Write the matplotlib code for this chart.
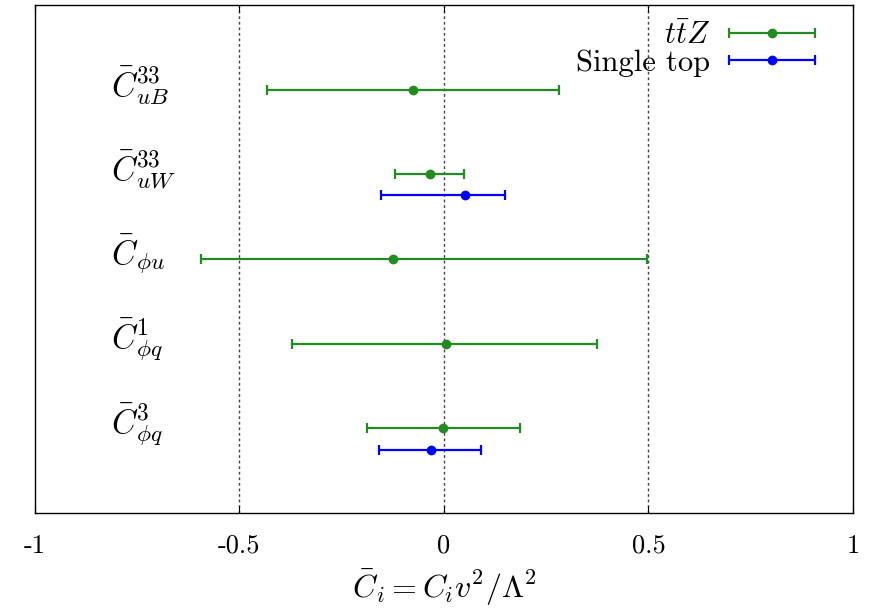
import matplotlib
matplotlib.use("Agg")
import matplotlib.pyplot as plt
from matplotlib.legend_handler import HandlerErrorbar
from matplotlib.container import ErrorbarContainer
import numpy as np

plt.rcParams['mathtext.fontset'] = 'cm'
plt.rcParams['font.family'] = ['cmr10', 'DejaVu Serif']
plt.rcParams['axes.unicode_minus'] = False

labels = [r'$\bar{C}_{uB}^{33}$', r'$\bar{C}_{uW}^{33}$', r'$\bar{C}_{\phi u}$',
          r'$\bar{C}_{\phi q}^{1}$', r'$\bar{C}_{\phi q}^{3}$']
ypos = [5, 4, 3, 2, 1]

# ttZ: center, low, high
ttz_c = [-0.076, -0.034, -0.125, 0.005, -0.002]
ttz_lo = [-0.433, -0.120, -0.594, -0.372, -0.188]
ttz_hi = [0.281, 0.049, 0.496, 0.374, 0.186]

# single top (only for uW and phi q3)
st_y = [4, 1]
st_c = [0.051, -0.032]
st_lo = [-0.154, -0.159]
st_hi = [0.149, 0.090]

fig = plt.figure(figsize=(8.73, 6.08), dpi=100)
ax = fig.add_axes([0.040, 0.156, 0.937, 0.836])

for xv in [-0.5, 0, 0.5]:
    ax.axvline(xv, color='#444444', lw=1.0, ls=(0, (2, 2)), zorder=0)

tc = np.array(ttz_c)
e1 = ax.errorbar(tc, ypos, xerr=[tc - np.array(ttz_lo), np.array(ttz_hi) - tc],
                 fmt='o', color='#228B22', ms=6, lw=1.6, capsize=3.8, capthick=1.6,
                 label=r'$t\bar{t}Z$')
sc = np.array(st_c)
e2 = ax.errorbar(sc, np.array(st_y) - 0.25, xerr=[sc - np.array(st_lo), np.array(st_hi) - sc],
                 fmt='o', color='#0000FF', ms=6, lw=1.6, capsize=3.8, capthick=1.6,
                 label='Single top')

for lab, y in zip(labels, ypos):
    ax.text(-0.815, y + 0.05, lab, fontsize=24, ha='left', va='center')

ax.set_xlim(-1, 1)
ax.set_ylim(0, 6)
ax.set_yticks([])
ax.set_xticks([-1, -0.5, 0, 0.5, 1])
ax.set_xticklabels(['-1', '-0.5', '0', '0.5', '1'])
ax.tick_params(axis='x', direction='in', length=5, top=True, labelsize=19, pad=15)
for s in ax.spines.values():
    s.set_linewidth(1.0)
ax.set_xlabel(r'$\bar{C}_i = C_i v^2/\Lambda^2$', fontsize=23, labelpad=7)

fs = 22
hl = 2.8
leg = ax.legend(loc='upper right', bbox_to_anchor=(0.9535, 0.969), frameon=False,
                markerfirst=False, fontsize=fs, handlelength=hl, borderaxespad=0,
                borderpad=0, labelspacing=0.0, handletextpad=0.62,
                handler_map={ErrorbarContainer: HandlerErrorbar(xerr_size=hl / 2)})

fig.savefig('out.png', dpi=100)
